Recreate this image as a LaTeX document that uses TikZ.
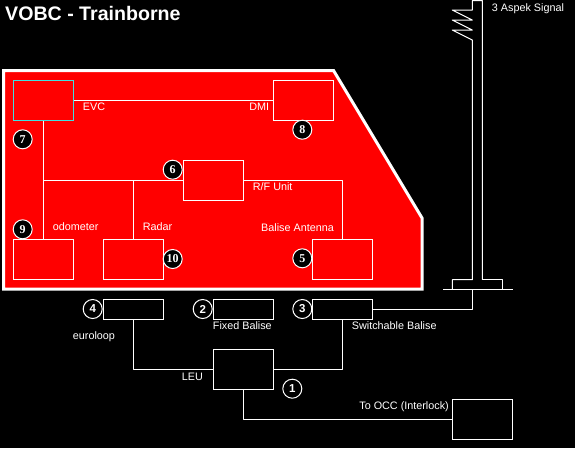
\documentclass[tikz,border=0pt]{standalone}
\usepackage{fontspec}
\setmainfont{Liberation Sans}
\newfontfamily\numserif{Liberation Serif}
\begin{document}
\begin{tikzpicture}[x=1pt,y=-1pt,
  wire/.style={draw=white,line width=1pt,line join=round},
  box/.style={rectangle,draw=white,line width=1pt,minimum width=60pt,minimum height=40pt,inner sep=0pt},
  sbox/.style={box,minimum height=20pt},
  lbl/.style={text=white,inner sep=0pt,font=\fontsize{10.8}{12}\selectfont},
  numin/.style={circle,fill=black,draw=white,line width=1pt,minimum size=19pt,inner sep=0pt,text=white,font=\numserif\bfseries\fontsize{12}{12}\selectfont},
  numout/.style={circle,fill=black,draw=white,line width=1pt,minimum size=19pt,inner sep=0pt,text=white,font=\bfseries\fontsize{11.5}{12}\selectfont}]
\definecolor{boxcyan}{RGB}{64,224,224}
\fill[black] (0,0) rectangle (575,448);
\useasboundingbox (0,0) rectangle (575,448);
% title
\node[anchor=base west,text=white,inner sep=0pt,font=\bfseries\fontsize{19.6}{21}\selectfont] (title) at (5,20.5) {VOBC - Trainborne};
% red vehicle area
\draw[fill=red,draw=white,line width=3pt] (3.5,70.5) -- (333.5,70.5) -- (422,218) -- (422,289) -- (3.5,289) -- cycle;
% boxes
\node[box,draw=boxcyan] (evc) at (43.3,100) {};
\node[box] (dmi) at (303,100) {};
\node[box] (rf) at (213.3,180.7) {};
\node[box] (odo) at (43.3,259.3) {};
\node[box] (radar) at (133.3,259.3) {};
\node[box] (ant) at (342.3,259) {};
\node[sbox] (euro) at (133.3,309.3) {};
\node[sbox] (fix) at (243.3,309.3) {};
\node[sbox] (sw) at (342.3,309.3) {};
\node[box] (leu) at (243.3,369.3) {};
\node[box] (occ) at (482.5,419.3) {};
% signal
\coordinate (sigbase) at (472.3,289.3);
\draw[wire] (482.3,279.7) -- (482.3,0.5) -- (472.3,0.5) -- (472.3,10) -- (452.3,10) -- (472.3,20) -- (452.3,20) -- (472.3,30) -- (452.3,30) -- (472.3,40) -- (472.3,279.7) -- (452.3,279.7) -- (452.3,289.3);
\draw[wire] (482.3,279.7) -- (502.3,279.7) -- (502.3,289.3);
\draw[wire] (443.3,289.3) -- (512.7,289.3);
% connectors
\draw[wire] (evc.east) -- (dmi.west);
\draw[wire] (evc.south) -- (odo.north);
\draw[wire] (rf.west) -- (evc.south |- rf.west);
\draw[wire] (radar.north) -- (radar.north |- rf.west);
\draw[wire] (rf.east) -| (ant.north);
\draw[wire] (euro.south) |- (leu.west);
\draw[wire] (sw.south) |- (leu.east);
\draw[wire] (leu.south) |- (occ.west);
\draw[wire] (sw.east) -| (sigbase);
% labels
\node[lbl,anchor=base west] (tevc) at (82.7,110.7) {EVC};
\node[lbl,anchor=base east] (tdmi) at (269.3,110.7) {DMI};
\node[lbl,anchor=base west] (trf) at (252.7,190.7) {R/F Unit};
\node[lbl,anchor=base west] (todo) at (52.7,230.7) {odometer};
\node[lbl,anchor=base west] (tradar) at (142.7,230.7) {Radar};
\node[lbl,anchor=base east] (tant) at (334,231) {Balise Antenna};
\node[lbl,anchor=base west] (teuro) at (72.7,339.3) {euroloop};
\node[lbl,anchor=base west] (tfix) at (212.7,329.3) {Fixed Balise};
\node[lbl,anchor=base west] (tsw) at (351.7,329.3) {Switchable Balise};
\node[lbl,anchor=base west] (tleu) at (181.7,380.7) {LEU};
\node[lbl,anchor=base east] (tocc) at (449,409.3) {To OCC (Interlock)};
\node[lbl,anchor=base west] (tsig) at (491.7,11) {3 Aspek Signal};
% numbers
\node[numin] (n7) at (22.7,139.3) {7};
\node[numin] (n8) at (302.3,129.7) {8};
\node[numin] (n6) at (172.7,169.7) {6};
\node[numin] (n9) at (22.7,229.3) {9};
\node[numin] (n10) at (172.7,259) {10};
\node[numin] (n5) at (302.3,258.3) {5};
\node[numout] (n4) at (92.7,309) {4};
\node[numout] (n2) at (202.7,309) {2};
\node[numout] (n3) at (302.3,309) {3};
\node[numout] (n1) at (292.3,388.7) {1};
\end{tikzpicture}
\end{document}
